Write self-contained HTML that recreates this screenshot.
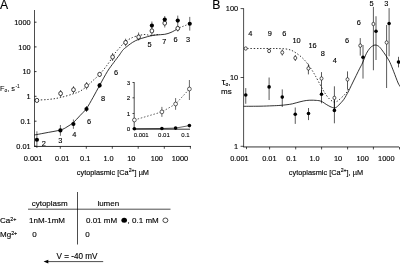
<!DOCTYPE html>
<html><head><meta charset="utf-8"><title>Figure</title>
<style>
html,body{margin:0;padding:0;background:#fff;}
body{width:400px;height:264px;overflow:hidden;}
svg{display:block;font-family:"Liberation Sans", sans-serif;fill:#000;}
text{stroke:#000;stroke-width:0.13px;}
</style></head><body>
<svg width="400" height="264" viewBox="0 0 400 264">
<rect x="0" y="0" width="400" height="264" fill="#fff"/>
<text x="0" y="8.9" font-size="12.2" text-anchor="start" >A</text>
<line x1="34.5" y1="10" x2="34.5" y2="146.45" stroke="#000" stroke-width="0.7" />
<line x1="34.1" y1="146.45" x2="191" y2="146.45" stroke="#000" stroke-width="0.8" />
<line x1="34.5" y1="22.2" x2="36.5" y2="22.2" stroke="#000" stroke-width="0.8" />
<text x="30.7" y="24.85" font-size="7.4" text-anchor="end" >1000</text>
<line x1="34.5" y1="46.9" x2="36.5" y2="46.9" stroke="#000" stroke-width="0.8" />
<text x="30.7" y="49.55" font-size="7.4" text-anchor="end" >100</text>
<line x1="34.5" y1="71.6" x2="36.5" y2="71.6" stroke="#000" stroke-width="0.8" />
<text x="30.7" y="74.25" font-size="7.4" text-anchor="end" >10</text>
<line x1="34.5" y1="96.3" x2="36.5" y2="96.3" stroke="#000" stroke-width="0.8" />
<text x="30.7" y="98.95" font-size="7.4" text-anchor="end" >1</text>
<line x1="34.5" y1="121.2" x2="36.5" y2="121.2" stroke="#000" stroke-width="0.8" />
<text x="30.7" y="123.85" font-size="7.4" text-anchor="end" >0.1</text>
<line x1="34.5" y1="146.2" x2="36.5" y2="146.2" stroke="#000" stroke-width="0.8" />
<text x="30.7" y="148.85" font-size="7.4" text-anchor="end" >0.01</text>
<line x1="60.3" y1="146.45" x2="60.3" y2="148.75" stroke="#000" stroke-width="0.7" />
<line x1="86.3" y1="146.45" x2="86.3" y2="148.75" stroke="#000" stroke-width="0.7" />
<line x1="112.3" y1="146.45" x2="112.3" y2="148.75" stroke="#000" stroke-width="0.7" />
<line x1="138.2" y1="146.45" x2="138.2" y2="148.75" stroke="#000" stroke-width="0.7" />
<line x1="164.3" y1="146.45" x2="164.3" y2="148.75" stroke="#000" stroke-width="0.7" />
<line x1="190.4" y1="146.45" x2="190.4" y2="148.75" stroke="#000" stroke-width="0.7" />
<text x="33" y="160.5" font-size="7.4" text-anchor="middle" >0.001</text>
<text x="62.3" y="160.5" font-size="7.4" text-anchor="middle" >0.01</text>
<text x="85.2" y="160.5" font-size="7.4" text-anchor="middle" >0.1</text>
<text x="108.6" y="160.5" font-size="7.4" text-anchor="middle" >1.0</text>
<text x="131.3" y="160.5" font-size="7.4" text-anchor="middle" >10</text>
<text x="156.8" y="160.5" font-size="7.4" text-anchor="middle" >100</text>
<text x="179.9" y="160.5" font-size="7.4" text-anchor="middle" >1000</text>
<text x="76.8" y="174.5" font-size="7.35" text-anchor="start" >cytoplasmic [Ca<tspan font-size="5.2" dy="-2.3">2+</tspan><tspan dy="2.3">] µM</tspan></text>
<text x="0" y="90.6" font-size="7.4" text-anchor="start" style="stroke-width:0.05px" >F<tspan font-size="4.8" dy="1.2">o</tspan><tspan dy="-1.2">, s</tspan><tspan font-size="4.8" dy="-3" dx="0.4">-1</tspan></text>
<path d="M34.4,100.2 C36.79,100.07 44.38,99.85 48.75,99.4 C53.12,98.95 56.48,98.44 60.6,97.5 C64.72,96.56 70.27,94.79 73.5,93.75 C76.73,92.71 77.82,92.46 80,91.25 C82.18,90.04 84.43,88.29 86.6,86.5 C88.77,84.71 90.83,82.52 93,80.5 C95.17,78.48 97.39,76.78 99.6,74.4 C101.81,72.03 104.06,69.15 106.25,66.25 C108.44,63.35 111.29,59.17 112.75,57 C114.21,54.83 113.79,54.82 115,53.2 C116.21,51.58 118.23,49.25 120,47.3 C121.77,45.35 123.52,43.13 125.6,41.5 C127.68,39.87 130.35,38.48 132.5,37.5 C134.65,36.52 136.42,36.1 138.5,35.6 C140.58,35.1 143.08,34.53 145,34.5 C146.92,34.47 148.17,35.35 150,35.4 C151.83,35.45 154.33,34.97 156,34.8 C157.67,34.63 159.33,34.47 160,34.4" fill="none" stroke="#000" stroke-width="0.8" stroke-dasharray="1.4 1.8"/>
<path d="M179.5,27.7 L189.75,23.75" fill="none" stroke="#000" stroke-width="0.8" stroke-dasharray="1.2 1.9"/>
<path d="M34.4,135 C36.17,134.67 40.67,133.83 45,133 C49.33,132.17 56.73,131.02 60.4,130 C64.07,128.98 64.83,128.15 67,126.9 C69.17,125.65 71.23,124.38 73.4,122.5 C75.57,120.62 77.82,117.93 80,115.6 C82.18,113.27 84.33,111.52 86.5,108.5 C88.67,105.48 90.82,101.35 93,97.5 C95.18,93.65 97.18,89.77 99.6,85.4 C102.02,81.03 105.14,75.12 107.5,71.3 C109.86,67.48 111.77,65.22 113.75,62.5 C115.73,59.78 117.94,57 119.4,55 C120.86,53 121.47,51.73 122.5,50.5 C123.53,49.27 123.93,48.95 125.6,47.6 C127.27,46.25 130.35,43.77 132.5,42.4 C134.65,41.03 136.42,40.23 138.5,39.4 C140.58,38.57 143.08,37.97 145,37.4 C146.92,36.83 148.17,36.4 150,36 C151.83,35.6 153.54,35.28 156,35 C158.46,34.72 162.25,34.73 164.75,34.3 C167.25,33.87 168.88,33.3 171,32.4 C173.12,31.5 176.42,29.48 177.5,28.9" fill="none" stroke="#000" stroke-width="0.8" />
<line x1="60.6" y1="90" x2="60.6" y2="97" stroke="#000" stroke-width="0.6" />
<line x1="73.5" y1="86.2" x2="73.5" y2="93.7" stroke="#000" stroke-width="0.6" />
<line x1="86.6" y1="82" x2="86.6" y2="89.5" stroke="#000" stroke-width="0.6" />
<line x1="99.6" y1="72" x2="99.6" y2="77" stroke="#000" stroke-width="0.6" />
<line x1="112.6" y1="53" x2="112.6" y2="61" stroke="#000" stroke-width="0.6" />
<line x1="125.6" y1="38.7" x2="125.6" y2="46.3" stroke="#000" stroke-width="0.6" />
<line x1="138.6" y1="32.5" x2="138.6" y2="40.5" stroke="#000" stroke-width="0.6" />
<line x1="151.9" y1="31" x2="151.9" y2="36.2" stroke="#000" stroke-width="0.6" />
<line x1="164.75" y1="24" x2="164.75" y2="27.5" stroke="#000" stroke-width="0.6" />
<line x1="177.75" y1="25" x2="177.75" y2="31.5" stroke="#000" stroke-width="0.6" />
<line x1="36.9" y1="131.3" x2="36.9" y2="148" stroke="#000" stroke-width="0.6" />
<line x1="60.4" y1="125" x2="60.4" y2="135.8" stroke="#000" stroke-width="0.6" />
<line x1="73.4" y1="119.5" x2="73.4" y2="128.8" stroke="#000" stroke-width="0.6" />
<line x1="86.5" y1="106" x2="86.5" y2="112" stroke="#000" stroke-width="0.6" />
<line x1="99.6" y1="83" x2="99.6" y2="88" stroke="#000" stroke-width="0.6" />
<line x1="151.9" y1="21.5" x2="151.9" y2="29" stroke="#000" stroke-width="0.6" />
<line x1="164.75" y1="16" x2="164.75" y2="22" stroke="#000" stroke-width="0.6" />
<line x1="177.75" y1="15.6" x2="177.75" y2="25" stroke="#000" stroke-width="0.6" />
<line x1="189.75" y1="16.9" x2="189.75" y2="30.6" stroke="#000" stroke-width="0.6" />
<ellipse cx="36.9" cy="100.4" rx="1.85" ry="2.1" fill="#fff" stroke="#000" stroke-width="0.75"/>
<ellipse cx="60.6" cy="93.5" rx="1.85" ry="2.1" fill="#fff" stroke="#000" stroke-width="0.75"/>
<ellipse cx="73.5" cy="89.75" rx="1.85" ry="2.1" fill="#fff" stroke="#000" stroke-width="0.75"/>
<ellipse cx="86.6" cy="85.6" rx="1.85" ry="2.1" fill="#fff" stroke="#000" stroke-width="0.75"/>
<ellipse cx="99.6" cy="74.4" rx="1.85" ry="2.1" fill="#fff" stroke="#000" stroke-width="0.75"/>
<ellipse cx="112.6" cy="57" rx="1.85" ry="2.1" fill="#fff" stroke="#000" stroke-width="0.75"/>
<ellipse cx="125.6" cy="42.5" rx="1.85" ry="2.1" fill="#fff" stroke="#000" stroke-width="0.75"/>
<ellipse cx="138.6" cy="37" rx="1.85" ry="2.1" fill="#fff" stroke="#000" stroke-width="0.75"/>
<ellipse cx="151.9" cy="30.9" rx="1.85" ry="2.1" fill="#fff" stroke="#000" stroke-width="0.75"/>
<ellipse cx="164.75" cy="23.1" rx="1.85" ry="2.1" fill="#fff" stroke="#000" stroke-width="0.75"/>
<ellipse cx="177.75" cy="28.4" rx="1.85" ry="2.1" fill="#fff" stroke="#000" stroke-width="0.75"/>
<circle cx="36.9" cy="139.75" r="2.1" fill="#000"/>
<circle cx="60.4" cy="130.4" r="2.1" fill="#000"/>
<circle cx="73.4" cy="124" r="2.1" fill="#000"/>
<circle cx="86.5" cy="109" r="2.1" fill="#000"/>
<circle cx="99.6" cy="85.4" r="2.1" fill="#000"/>
<circle cx="151.9" cy="25.6" r="2.1" fill="#000"/>
<circle cx="164.75" cy="19.6" r="2.1" fill="#000"/>
<circle cx="177.75" cy="20.6" r="2.1" fill="#000"/>
<circle cx="189.75" cy="23.75" r="2.1" fill="#000"/>
<text x="43.8" y="145.6" font-size="7.4" text-anchor="middle" >2</text>
<text x="60.2" y="142.6" font-size="7.4" text-anchor="middle" >3</text>
<text x="74.4" y="137" font-size="7.4" text-anchor="middle" >4</text>
<text x="89" y="124.2" font-size="7.4" text-anchor="middle" >6</text>
<text x="103" y="100.7" font-size="7.4" text-anchor="middle" >8</text>
<text x="116" y="75.4" font-size="7.4" text-anchor="middle" >6</text>
<text x="149.5" y="47.1" font-size="7.4" text-anchor="middle" >5</text>
<text x="164.4" y="43.8" font-size="7.4" text-anchor="middle" >7</text>
<text x="175.6" y="42.4" font-size="7.4" text-anchor="middle" >6</text>
<text x="188.1" y="42.4" font-size="7.4" text-anchor="middle" >3</text>
<line x1="134.2" y1="82.2" x2="134.2" y2="129.2" stroke="#000" stroke-width="0.7" />
<line x1="134.2" y1="129.2" x2="190" y2="129.2" stroke="#000" stroke-width="0.8" />
<line x1="132.5" y1="82.5" x2="134.2" y2="82.5" stroke="#000" stroke-width="0.7" />
<text x="130.3" y="84.6" font-size="6.2" text-anchor="end" style="stroke-width:0.1px" >3</text>
<line x1="132.5" y1="97.8" x2="134.2" y2="97.8" stroke="#000" stroke-width="0.7" />
<text x="130.3" y="99.9" font-size="6.2" text-anchor="end" style="stroke-width:0.1px" >2</text>
<line x1="132.5" y1="113.5" x2="134.2" y2="113.5" stroke="#000" stroke-width="0.7" />
<text x="130.3" y="115.6" font-size="6.2" text-anchor="end" style="stroke-width:0.1px" >1</text>
<line x1="132.5" y1="128.8" x2="134.2" y2="128.8" stroke="#000" stroke-width="0.7" />
<text x="130.3" y="130.9" font-size="6.2" text-anchor="end" style="stroke-width:0.1px" >0</text>
<text x="141.2" y="137.4" font-size="6" text-anchor="middle" style="stroke-width:0.1px" >0.001</text>
<text x="163.9" y="137.4" font-size="6" text-anchor="middle" style="stroke-width:0.1px" >0.01</text>
<text x="185.3" y="137.4" font-size="6" text-anchor="middle" style="stroke-width:0.1px" >0.1</text>
<path d="M134.4,120 L161.9,111.9 L175.6,104 L189.4,89" fill="none" stroke="#000" stroke-width="0.6" stroke-dasharray="1.6 1.7"/>
<path d="M134.4,128.75 L161.9,128.5 L175.6,128.1" fill="none" stroke="#000" stroke-width="0.7" />
<path d="M175.6,128.1 L189.4,125.6" fill="none" stroke="#000" stroke-width="0.6" />
<line x1="161.9" y1="106.9" x2="161.9" y2="116.9" stroke="#000" stroke-width="0.6" />
<line x1="175.6" y1="98.1" x2="175.6" y2="109.8" stroke="#000" stroke-width="0.6" />
<line x1="189.4" y1="80" x2="189.4" y2="100" stroke="#000" stroke-width="0.6" />
<circle cx="134.4" cy="120" r="1.9" fill="#fff" stroke="#000" stroke-width="0.6"/>
<circle cx="161.9" cy="111.9" r="1.9" fill="#fff" stroke="#000" stroke-width="0.6"/>
<circle cx="175.6" cy="104" r="1.9" fill="#fff" stroke="#000" stroke-width="0.6"/>
<circle cx="189.4" cy="89" r="1.9" fill="#fff" stroke="#000" stroke-width="0.6"/>
<circle cx="134.4" cy="128.75" r="1.8" fill="#000"/>
<circle cx="161.9" cy="128.5" r="1.8" fill="#000"/>
<circle cx="175.6" cy="128.1" r="1.8" fill="#000"/>
<circle cx="189.4" cy="125.6" r="1.8" fill="#000"/>
<text x="31.7" y="206.2" font-size="8" text-anchor="start" >cytoplasm</text>
<text x="97.4" y="206.2" font-size="8" text-anchor="start" >lumen</text>
<line x1="28" y1="209.2" x2="170.5" y2="209.2" stroke="#000" stroke-width="0.7" />
<line x1="77.5" y1="192" x2="77.5" y2="244.5" stroke="#000" stroke-width="0.7" />
<text x="0" y="223" font-size="8" text-anchor="start" >Ca<tspan font-size="5.4" dy="-2.2">2+</tspan></text>
<text x="0" y="236.8" font-size="8" text-anchor="start" >Mg<tspan font-size="5.4" dy="-2.2">2+</tspan></text>
<text x="29" y="223" font-size="8" text-anchor="start" >1nM-1mM</text>
<text x="32.2" y="236.8" font-size="8" text-anchor="start" >0</text>
<text x="85.3" y="236.8" font-size="8" text-anchor="start" >0</text>
<text x="86" y="223" font-size="8" text-anchor="start" >0.01 mM</text>
<ellipse cx="124.2" cy="220.3" rx="2.8" ry="2.5" fill="#000"/>
<text x="127.6" y="223" font-size="8" text-anchor="start" >, 0.1 mM</text>
<ellipse cx="165.4" cy="220.3" rx="2.5" ry="2.3" fill="#fff" stroke="#000" stroke-width="0.7"/>
<text x="56.5" y="259.1" font-size="8.15" text-anchor="start" >V = -40 mV</text>
<line x1="46" y1="261.6" x2="103.2" y2="261.6" stroke="#000" stroke-width="0.7" />
<path d="M43.6,261.6 L48.3,259.8 L48.3,263.4 Z" fill="#000"/>
<text x="212.3" y="8.9" font-size="12.2" text-anchor="start" >B</text>
<line x1="243.6" y1="8.3" x2="243.6" y2="146.95" stroke="#000" stroke-width="0.7" />
<line x1="243.2" y1="146.95" x2="399" y2="146.95" stroke="#000" stroke-width="0.8" />
<line x1="240.6" y1="8.6" x2="243.6" y2="8.6" stroke="#000" stroke-width="0.7" />
<text x="238.2" y="11.25" font-size="7.4" text-anchor="end" >100</text>
<line x1="240.6" y1="77.5" x2="243.6" y2="77.5" stroke="#000" stroke-width="0.7" />
<text x="238.2" y="80.15" font-size="7.4" text-anchor="end" >10</text>
<line x1="240.6" y1="146.3" x2="243.6" y2="146.3" stroke="#000" stroke-width="0.7" />
<text x="238.2" y="148.95" font-size="7.4" text-anchor="end" >1</text>
<line x1="246.5" y1="146.95" x2="246.5" y2="149.15" stroke="#000" stroke-width="0.7" />
<line x1="269.6" y1="146.95" x2="269.6" y2="149.45" stroke="#000" stroke-width="0.7" />
<line x1="295.7" y1="146.95" x2="295.7" y2="149.45" stroke="#000" stroke-width="0.7" />
<line x1="321.6" y1="146.95" x2="321.6" y2="149.45" stroke="#000" stroke-width="0.7" />
<line x1="347.6" y1="146.95" x2="347.6" y2="149.45" stroke="#000" stroke-width="0.7" />
<line x1="373.4" y1="146.95" x2="373.4" y2="149.45" stroke="#000" stroke-width="0.7" />
<line x1="399.5" y1="146.95" x2="399.5" y2="149.45" stroke="#000" stroke-width="0.7" />
<text x="239.4" y="160.5" font-size="7.4" text-anchor="middle" >0.001</text>
<text x="269.4" y="160.5" font-size="7.4" text-anchor="middle" >0.01</text>
<text x="291.4" y="160.5" font-size="7.4" text-anchor="middle" >0.1</text>
<text x="314.6" y="160.5" font-size="7.4" text-anchor="middle" >1.0</text>
<text x="338.1" y="160.5" font-size="7.4" text-anchor="middle" >10</text>
<text x="362.6" y="160.5" font-size="7.4" text-anchor="middle" >100</text>
<text x="386.3" y="160.5" font-size="7.4" text-anchor="middle" >1000</text>
<text x="288.8" y="174.5" font-size="7.35" text-anchor="start" >cytoplasmic [Ca<tspan font-size="5.2" dy="-2.3">2+</tspan><tspan dy="2.3">], µM</tspan></text>
<text x="221.8" y="84.6" font-size="9.2" text-anchor="start" >τ<tspan font-size="5" dy="1">o</tspan><tspan dy="-1" font-size="8">,</tspan></text>
<text x="221" y="94.4" font-size="8" text-anchor="start" >ms</text>
<path d="M247.3,48.5 C249.42,48.5 255.88,48.5 260,48.5 C264.12,48.5 269,48.49 272,48.5 C275,48.51 275.75,48.48 278,48.55 C280.25,48.62 283.29,48.62 285.5,48.9 C287.71,49.18 289.46,49.55 291.25,50.25 C293.04,50.95 294.58,51.99 296.25,53.1 C297.92,54.21 299.79,55.65 301.25,56.9 C302.71,58.15 303.96,59.46 305,60.6 C306.04,61.74 306.57,62.5 307.5,63.75 C308.43,65 309.67,66.74 310.6,68.1 C311.53,69.46 312.27,70.54 313.1,71.9 C313.93,73.26 314.48,74.23 315.6,76.25 C316.72,78.27 318.53,81.66 319.8,84 C321.07,86.34 322.25,88.63 323.2,90.3 C324.15,91.97 324.57,92.67 325.5,94 C326.43,95.33 327.58,97.02 328.75,98.25 C329.92,99.48 331.56,100.78 332.5,101.4 C333.44,102.03 333.73,101.97 334.4,102 C335.07,102.03 335.77,101.92 336.5,101.6 C337.23,101.28 337.54,101.12 338.75,100.1 C339.96,99.08 342.39,96.85 343.75,95.5 C345.11,94.15 345.94,93.33 346.9,92 C347.86,90.67 349.07,88.25 349.5,87.5" fill="none" stroke="#000" stroke-width="0.8" stroke-dasharray="1.4 1.8"/>
<path d="M243.6,106.3 C246.33,106.28 255.27,106.28 260,106.2 C264.73,106.12 268.67,105.93 272,105.8 C275.33,105.67 277.5,105.58 280,105.4 C282.5,105.22 284.92,104.97 287,104.7 C289.08,104.43 290.33,104.28 292.5,103.8 C294.67,103.32 297.71,102.35 300,101.8 C302.29,101.25 304.25,100.77 306.25,100.5 C308.25,100.23 310.12,100.2 312,100.2 C313.88,100.2 316.17,100.38 317.5,100.5 C318.83,100.62 319.17,100.67 320,100.9 C320.83,101.13 321.46,101.32 322.5,101.9 C323.54,102.48 325,103.63 326.25,104.4 C327.5,105.17 328.96,105.98 330,106.5 C331.04,107.02 331.77,107.27 332.5,107.5 C333.23,107.73 333.73,107.95 334.4,107.9 C335.07,107.85 335.77,107.67 336.5,107.2 C337.23,106.73 337.54,106.38 338.75,105.1 C339.96,103.82 342.19,101.68 343.75,99.5 C345.31,97.32 347.06,93.88 348.1,92 C349.14,90.12 349.18,89.87 350,88.2 C350.82,86.53 351.96,84.13 353,82 C354.04,79.87 355.12,77.7 356.25,75.4 C357.38,73.1 358.76,70.27 359.8,68.2 C360.84,66.13 361.43,65.41 362.5,63 C363.57,60.59 365,56.23 366.25,53.75 C367.5,51.27 368.96,49.39 370,48.1 C371.04,46.81 371.67,46.52 372.5,46 C373.33,45.48 374.17,45.07 375,45 C375.83,44.93 376.67,45.18 377.5,45.6 C378.33,46.02 378.96,46.35 380,47.5 C381.04,48.65 382.5,50.73 383.75,52.5 C385,54.27 386.46,56.43 387.5,58.1 C388.54,59.77 388.96,60.23 390,62.5 C391.04,64.78 392.4,68.33 393.75,71.75 C395.1,75.17 396.98,80.46 398.1,83 C399.23,85.54 400.1,86.33 400.5,87" fill="none" stroke="#000" stroke-width="0.8" />
<line x1="269.1" y1="48.5" x2="269.1" y2="53" stroke="#000" stroke-width="0.65" />
<line x1="282.25" y1="49.5" x2="282.25" y2="55.5" stroke="#000" stroke-width="0.65" />
<line x1="295.3" y1="55" x2="295.3" y2="61" stroke="#000" stroke-width="0.65" />
<line x1="308.4" y1="63.8" x2="308.4" y2="74.4" stroke="#000" stroke-width="0.65" />
<line x1="321.5" y1="72.1" x2="321.5" y2="94" stroke="#000" stroke-width="0.65" />
<line x1="334.4" y1="86.3" x2="334.4" y2="109" stroke="#000" stroke-width="0.65" />
<line x1="347.5" y1="71.4" x2="347.5" y2="89.6" stroke="#000" stroke-width="0.65" />
<line x1="360.25" y1="38.1" x2="360.25" y2="55.6" stroke="#000" stroke-width="0.65" />
<line x1="373.4" y1="6.9" x2="373.4" y2="70.25" stroke="#000" stroke-width="0.65" />
<line x1="386.6" y1="25" x2="386.6" y2="88" stroke="#000" stroke-width="0.65" />
<line x1="245.75" y1="88.1" x2="245.75" y2="103.75" stroke="#000" stroke-width="0.65" />
<line x1="269.1" y1="77.5" x2="269.1" y2="100" stroke="#000" stroke-width="0.65" />
<line x1="282.25" y1="89.4" x2="282.25" y2="107" stroke="#000" stroke-width="0.65" />
<line x1="295.25" y1="107.5" x2="295.25" y2="123.9" stroke="#000" stroke-width="0.65" />
<line x1="308.5" y1="108" x2="308.5" y2="120.1" stroke="#000" stroke-width="0.65" />
<line x1="321.5" y1="90" x2="321.5" y2="103.3" stroke="#000" stroke-width="0.65" />
<line x1="334.4" y1="100" x2="334.4" y2="123.3" stroke="#000" stroke-width="0.65" />
<line x1="363" y1="45" x2="363" y2="78.6" stroke="#000" stroke-width="0.65" />
<line x1="376" y1="16.25" x2="376" y2="60" stroke="#000" stroke-width="0.65" />
<line x1="389.1" y1="8.1" x2="389.1" y2="56.25" stroke="#000" stroke-width="0.65" />
<line x1="398.5" y1="56.8" x2="398.5" y2="67.4" stroke="#000" stroke-width="0.65" />
<ellipse cx="245.75" cy="48.5" rx="1.5" ry="1.7" fill="#fff" stroke="#000" stroke-width="0.65"/>
<ellipse cx="269.1" cy="51" rx="1.5" ry="1.7" fill="#fff" stroke="#000" stroke-width="0.65"/>
<ellipse cx="282.25" cy="52.5" rx="1.5" ry="1.7" fill="#fff" stroke="#000" stroke-width="0.65"/>
<ellipse cx="295.3" cy="58" rx="1.5" ry="1.7" fill="#fff" stroke="#000" stroke-width="0.65"/>
<ellipse cx="308.4" cy="68.4" rx="1.5" ry="1.7" fill="#fff" stroke="#000" stroke-width="0.65"/>
<ellipse cx="321.5" cy="78.5" rx="1.5" ry="1.7" fill="#fff" stroke="#000" stroke-width="0.65"/>
<ellipse cx="334.4" cy="97.9" rx="1.5" ry="1.7" fill="#fff" stroke="#000" stroke-width="0.65"/>
<ellipse cx="347.5" cy="79.4" rx="1.5" ry="1.7" fill="#fff" stroke="#000" stroke-width="0.65"/>
<ellipse cx="360.25" cy="45.6" rx="1.5" ry="1.7" fill="#fff" stroke="#000" stroke-width="0.65"/>
<ellipse cx="373.4" cy="24" rx="1.5" ry="1.7" fill="#fff" stroke="#000" stroke-width="0.65"/>
<ellipse cx="386.6" cy="42.5" rx="1.5" ry="1.7" fill="#fff" stroke="#000" stroke-width="0.65"/>
<circle cx="245.75" cy="95" r="1.8" fill="#000"/>
<circle cx="269.1" cy="86.9" r="1.8" fill="#000"/>
<circle cx="282.25" cy="97.1" r="1.8" fill="#000"/>
<circle cx="295.25" cy="114.25" r="1.8" fill="#000"/>
<circle cx="308.5" cy="113.5" r="1.8" fill="#000"/>
<circle cx="321.5" cy="94.3" r="1.8" fill="#000"/>
<circle cx="334.4" cy="110.4" r="1.8" fill="#000"/>
<circle cx="363" cy="57.3" r="1.8" fill="#000"/>
<circle cx="376" cy="31.25" r="1.8" fill="#000"/>
<circle cx="389.1" cy="23.5" r="1.8" fill="#000"/>
<circle cx="398.5" cy="62" r="1.8" fill="#000"/>
<text x="250.4" y="36.1" font-size="7.4" text-anchor="middle" >4</text>
<text x="269.8" y="36.1" font-size="7.4" text-anchor="middle" >9</text>
<text x="284.4" y="36.1" font-size="7.4" text-anchor="middle" >6</text>
<text x="296.5" y="43.2" font-size="7.4" text-anchor="middle" >10</text>
<text x="312.6" y="47.7" font-size="7.4" text-anchor="middle" >16</text>
<text x="322.75" y="55.8" font-size="7.4" text-anchor="middle" >8</text>
<text x="334.75" y="62.5" font-size="7.4" text-anchor="middle" >4</text>
<text x="347" y="43.1" font-size="7.4" text-anchor="middle" >6</text>
<text x="358.9" y="24.8" font-size="7.4" text-anchor="middle" >6</text>
<text x="371.6" y="5.7" font-size="7.4" text-anchor="middle" >5</text>
<text x="386.2" y="5.7" font-size="7.4" text-anchor="middle" >3</text>
</svg>
</body></html>
